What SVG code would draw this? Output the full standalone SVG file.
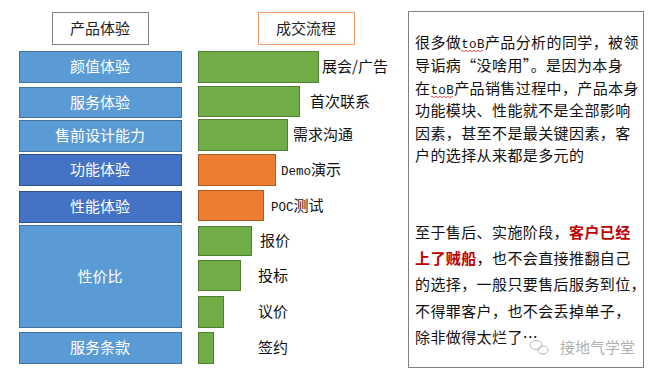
<svg xmlns="http://www.w3.org/2000/svg" width="660" height="378" viewBox="0 0 660 378" xml:lang="zh-CN">
<style>
text{font-family:"Noto Sans CJK SC","Liberation Sans",sans-serif;}
.hdr{font-size:15px;fill:#222;text-anchor:middle;}
.bl{fill:#5b9bd5;stroke:#41719c;stroke-width:1;}
.bd{fill:#4472c4;stroke:#2f528f;stroke-width:1;}
.bt{font-size:15px;fill:#fff;text-anchor:middle;}
.gr{fill:#70ad47;stroke:#507e32;stroke-width:1;}
.or{fill:#ed7d31;stroke:#ae5a21;stroke-width:1;}
.gl{font-size:15px;fill:#111;}
.mono{font-family:"Liberation Mono",monospace;font-size:12.5px;}
.para{font-size:15px;fill:#111;letter-spacing:0.4px;}
.fw{font-feature-settings:"fwid" 1;}
.red{fill:#c00000;font-weight:bold;}
.wavy{fill:none;stroke:#e03030;stroke-width:0.8;}
</style>
<rect width="660" height="378" fill="#fff"/>

<g id="header-product">
<rect x="52.5" y="12.5" width="96" height="32" fill="#fff" stroke="#7f7f7f"/>
<text class="hdr" x="100" y="33.5">产品体验</text>
</g>
<g id="header-deal">
<rect x="258.5" y="12.5" width="96" height="32" fill="#fff" stroke="#ed9d6a"/>
<text class="hdr" x="306" y="33.5">成交流程</text>
</g>

<g id="p1"><rect class="bl" x="19.5" y="51.5" width="162" height="31"/><text class="bt" x="100" y="72">颜值体验</text></g>
<g id="p2"><rect class="bl" x="19.5" y="87.5" width="162" height="30"/><text class="bt" x="100" y="108">服务体验</text></g>
<g id="p3"><rect class="bl" x="19.5" y="120.5" width="162" height="31"/><text class="bt" x="100" y="141">售前设计能力</text></g>
<g id="p4"><rect class="bd" x="19.5" y="154.5" width="162" height="31"/><text class="bt" x="100" y="175">功能体验</text></g>
<g id="p5"><rect class="bd" x="19.5" y="191.5" width="162" height="31"/><text class="bt" x="100" y="212">性能体验</text></g>
<g id="p6"><rect class="bl" x="19.5" y="225.5" width="162" height="102"/><text class="bt" x="100" y="282">性价比</text></g>
<g id="p7"><rect class="bl" x="19.5" y="332.5" width="162" height="31"/><text class="bt" x="100" y="353">服务条款</text></g>

<g id="s1"><rect class="gr" x="198.5" y="51.5" width="120" height="31"/><text class="gl" x="322" y="72">展会/广告</text></g>
<g id="s2"><rect class="gr" x="198.5" y="86.5" width="101" height="30"/><text class="gl" x="310" y="107">首次联系</text></g>
<g id="s3"><rect class="gr" x="198.5" y="119.5" width="89" height="31"/><text class="gl" x="293" y="140">需求沟通</text></g>
<g id="s4"><rect class="or" x="198.5" y="154.5" width="77" height="31"/><text class="gl" x="281" y="175"><tspan class="mono">Demo</tspan>演示</text></g>
<g id="s5"><rect class="or" x="198.5" y="190.5" width="65" height="30"/><text class="gl" x="271" y="211"><tspan class="mono">POC</tspan>测试</text></g>
<g id="s6"><rect class="gr" x="198.5" y="226.5" width="53" height="29"/><text class="gl" x="260" y="246">报价</text></g>
<g id="s7"><rect class="gr" x="198.5" y="260.5" width="42" height="30"/><text class="gl" x="258" y="281">投标</text></g>
<g id="s8"><rect class="gr" x="198.5" y="296.5" width="25" height="31"/><text class="gl" x="258" y="317">议价</text></g>
<g id="s9"><rect class="gr" x="198.5" y="332.5" width="15" height="31"/><text class="gl" x="258" y="353">签约</text></g>

<g id="textbox">
<rect x="408.5" y="11.5" width="235" height="356" fill="#fff" stroke="#7f7f7f"/>
<text class="para" x="415" y="48">很多做<tspan class="mono">toB</tspan>产品分析的同学，被领</text>
<text class="para fw" x="415" y="71">导诟病“没啥用”。是因为本身</text>
<text class="para" x="415" y="94">在<tspan class="mono">toB</tspan>产品销售过程中，产品本身</text>
<text class="para" x="415" y="116">功能模块、性能就不是全部影响</text>
<text class="para" x="415" y="139">因素，甚至不是最关键因素，客</text>
<text class="para" x="415" y="161">户的选择从来都是多元的</text>
<path class="wavy" d="M461 51 q1 -1.5 2 0 t2 0 t2 0 t2 0 t2 0 t2 0 t2 0 t2 0 t2 0 t2 0 t2 0"/>
<path class="wavy" d="M431 97 q1 -1.5 2 0 t2 0 t2 0 t2 0 t2 0 t2 0 t2 0 t2 0 t2 0 t2 0 t2 0"/>
<text class="para" x="415" y="238">至于售后、实施阶段，<tspan class="red">客户已经</tspan></text>
<text class="para" x="415" y="264"><tspan class="red">上了贼船</tspan>，也不会直接推翻自己</text>
<text class="para" x="415" y="290">的选择，一般只要售后服务到位，</text>
<text class="para" x="415" y="317">不得罪客户，也不会丢掉单子，</text>
<text class="para" x="415" y="343">除非做得太烂了…</text>
<g id="watermark" fill="none" stroke="#b5b5b5" stroke-width="1">
<ellipse cx="536" cy="345" rx="6" ry="4.5"/>
<ellipse cx="543" cy="350" rx="5" ry="4"/>
<text x="560" y="353" style="font-size:15px;fill:#b0b0b0;stroke:none;">接地气学堂</text>
</g>
</g>
</svg>
